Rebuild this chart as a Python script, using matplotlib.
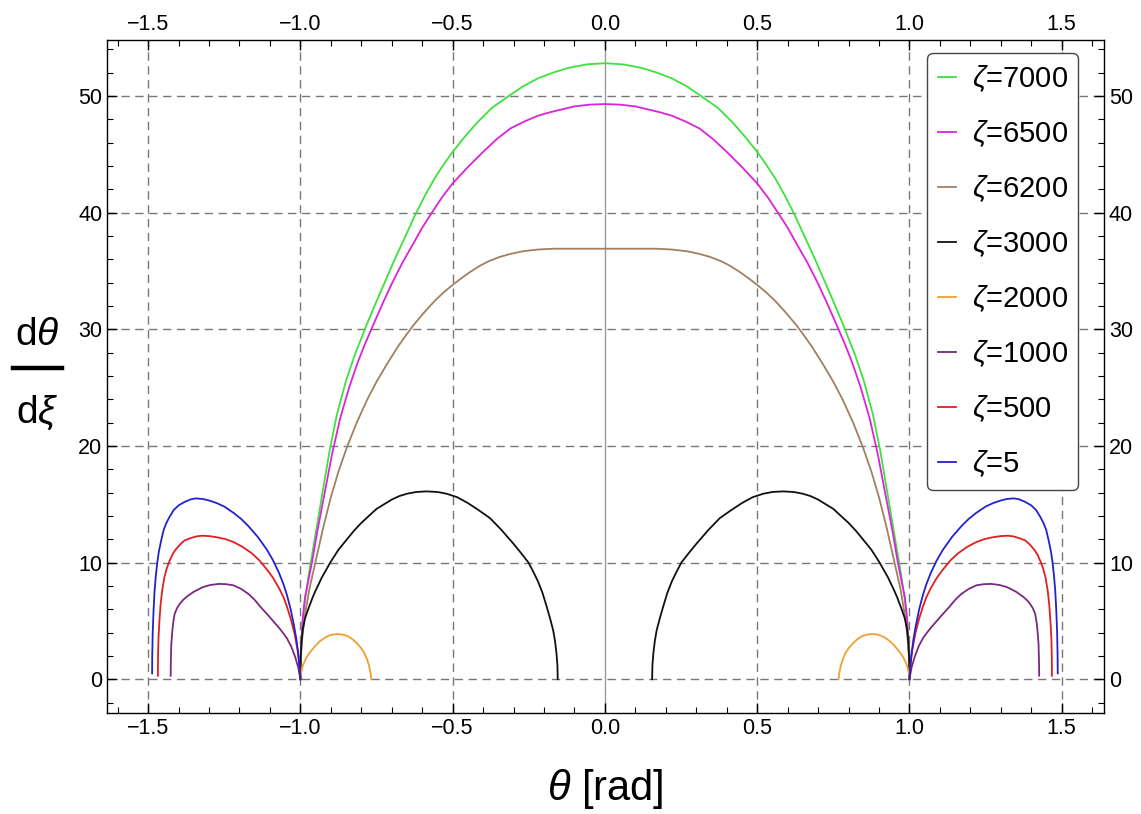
import numpy as np
import matplotlib
matplotlib.use("Agg")
import matplotlib.pyplot as plt
from matplotlib.lines import Line2D
from matplotlib.ticker import MultipleLocator

plt.rcParams['font.family'] = ['Liberation Sans', 'DejaVu Sans']
plt.rcParams['mathtext.fontset'] = 'custom'
plt.rcParams['mathtext.rm'] = 'Liberation Sans'
plt.rcParams['mathtext.it'] = 'Liberation Sans:italic'

# left half of each curve (theta <= 0); the plot is mirror-symmetric in theta
zeta_labels = ["7000", "6500", "6200", "3000", "2000", "1000", "500", "5"]
colors = ["#3de23d", "#dd22dd", "#a08060", "#111111", "#f0a030", "#7a2a7e", "#e02020", "#2222cc"]

th_7000 = [-1.0, -0.998, -0.993, -0.985, -0.97, -0.955, -0.93, -0.904, -0.88, -0.85,
           -0.82, -0.779, -0.75, -0.72, -0.69, -0.66, -0.623, -0.59, -0.56, -0.53,
           -0.5, -0.46, -0.42, -0.37, -0.315, -0.27, -0.22, -0.17, -0.12, -0.06, 0.0]
y_7000 = [0, 2.5, 4.8, 6.8, 9.4, 11.7, 15.6, 19.6, 22.7, 25.6,
          27.9, 30.6, 32.4, 34.2, 36.0, 37.7, 39.8, 41.5, 42.9, 44.1,
          45.2, 46.5, 47.7, 49.0, 50.0, 50.8, 51.5, 52.0, 52.4, 52.7, 52.8]

th_6500 = [-1.0, -0.998, -0.993, -0.985, -0.962, -0.945, -0.92, -0.896, -0.87, -0.84,
           -0.814, -0.79, -0.762, -0.73, -0.7, -0.665, -0.63, -0.6, -0.568, -0.535,
           -0.5, -0.45, -0.4, -0.355, -0.311, -0.265, -0.22, -0.18, -0.148, -0.1, -0.05, 0.0]
y_6500 = [0, 2.5, 5, 7, 10, 12.6, 16.0, 19.3, 22.3, 25.0,
          27.0, 28.6, 30.3, 32.2, 33.9, 35.7, 37.3, 38.7, 40, 41.3,
          42.5, 43.9, 45.2, 46.3, 47.2, 47.8, 48.3, 48.6, 48.8, 49.1, 49.25, 49.3]

th_6200 = [-1.0, -0.998, -0.993, -0.985, -0.97, -0.951, -0.925, -0.9, -0.875, -0.847,
           -0.815, -0.78, -0.75, -0.716, -0.68, -0.65, -0.63, -0.595, -0.56, -0.53,
           -0.5, -0.47, -0.443, -0.41, -0.38, -0.345, -0.311, -0.27, -0.22, -0.17, -0.12, 0.0]
y_6200 = [0, 2, 3.8, 5.5, 7.8, 10, 13.0, 15.6, 17.8, 19.9,
          22.0, 24.0, 25.5, 27.0, 28.5, 29.6, 30.3, 31.4, 32.4, 33.15,
          33.8, 34.4, 34.9, 35.45, 35.85, 36.2, 36.45, 36.68, 36.83, 36.9, 36.9, 36.9]

th_3000 = [-1.0, -0.999, -0.997, -0.992, -0.985, -0.973, -0.96, -0.95, -0.93, -0.902,
           -0.875, -0.85, -0.825, -0.8, -0.775, -0.75, -0.725, -0.7, -0.675, -0.65,
           -0.62, -0.585, -0.55, -0.52, -0.485, -0.45, -0.415, -0.377, -0.34, -0.3,
           -0.275, -0.251, -0.235, -0.22, -0.205, -0.191, -0.18, -0.17, -0.164, -0.159,
           -0.156, -0.155]
y_3000 = [0, 1.8, 3.0, 4.3, 5.2, 6.1, 7.0, 7.6, 8.7, 10,
          11.1, 11.9, 12.7, 13.4, 14.0, 14.6, 15.0, 15.4, 15.7, 15.9,
          16.05, 16.1, 16.05, 15.9, 15.6, 15.1, 14.5, 13.8, 12.8, 11.6,
          10.8, 10, 9.2, 8.4, 7.4, 6.2, 5.2, 4.2, 3.3, 2.2,
          1.2, 0]

th_2000 = [-1.0, -0.998, -0.993, -0.985, -0.977, -0.967, -0.95, -0.934, -0.92, -0.905,
           -0.89, -0.877, -0.86, -0.845, -0.83, -0.814, -0.8, -0.79, -0.781, -0.775,
           -0.77, -0.767]
y_2000 = [0, 0.5, 1.1, 1.6, 2.0, 2.35, 2.9, 3.3, 3.55, 3.75,
          3.85, 3.87, 3.82, 3.7, 3.45, 3.07, 2.65, 2.25, 1.7, 1.2,
          0.6, 0]

th_1000 = [-1.426, -1.4255, -1.424, -1.421, -1.418, -1.413, -1.405, -1.395, -1.385, -1.372,
           -1.35, -1.32, -1.295, -1.268, -1.245, -1.22, -1.195, -1.17, -1.15, -1.131,
           -1.11, -1.09, -1.07, -1.055, -1.044, -1.03, -1.017, -1.007, -1.0]
y_1000 = [0.3, 1.5, 3, 4.0, 4.8, 5.6, 6.1, 6.5, 6.8, 7.1,
          7.5, 7.9, 8.08, 8.17, 8.15, 8.05, 7.75, 7.3, 6.8, 6.2,
          5.6, 5.0, 4.4, 3.9, 3.5, 2.8, 1.9, 1.0, 0]

th_500 = [-1.468, -1.4675, -1.466, -1.463, -1.459, -1.454, -1.447, -1.44, -1.432, -1.42,
          -1.41, -1.395, -1.38, -1.36, -1.34, -1.323, -1.3, -1.27, -1.245, -1.219,
          -1.19, -1.16, -1.135, -1.11, -1.09, -1.07, -1.055, -1.044, -1.032, -1.02,
          -1.01, -1.004, -1.0]
y_500 = [0.3, 2, 3.5, 5, 6.4, 7.6, 8.7, 9.4, 10, 10.7,
         11.1, 11.55, 11.9, 12.1, 12.25, 12.3, 12.27, 12.15, 12.0, 11.75,
         11.35, 10.8, 10.2, 9.4, 8.7, 7.8, 7.0, 6.2, 5.2, 4.0,
         2.6, 1.4, 0]

th_5 = [-1.487, -1.4865, -1.485, -1.482, -1.479, -1.475, -1.47, -1.465, -1.458, -1.449,
        -1.44, -1.43, -1.416, -1.4, -1.38, -1.36, -1.344, -1.32, -1.3, -1.275,
        -1.25, -1.219, -1.195, -1.17, -1.14, -1.11, -1.09, -1.07, -1.055, -1.044,
        -1.032, -1.021, -1.013, -1.006, -1.0]
y_5 = [0.5, 2, 4, 6, 7.5, 8.8, 10, 10.9, 11.8, 12.8,
       13.4, 13.9, 14.5, 14.9, 15.2, 15.42, 15.5, 15.45, 15.32, 15.1,
       14.8, 14.25, 13.75, 13.1, 12.2, 11.1, 10.2, 9.1, 8.1, 7.2,
       6.0, 4.6, 3.4, 2.0, 0]

curves = [(th_7000, y_7000), (th_6500, y_6500), (th_6200, y_6200), (th_3000, y_3000),
          (th_2000, y_2000), (th_1000, y_1000), (th_500, y_500), (th_5, y_5)]
# curves that span across theta = 0 join into one arch
joined = [True, True, True, False, False, False, False, False]

fig = plt.figure(figsize=(11.41, 8.14), dpi=100)
ax = fig.add_axes([0.0938, 0.124, 0.8738, 0.827])

ax.axvline(0, color="#999999", lw=1.0, zorder=1)
for xv in [-1.5, -1.0, -0.5, 0.5, 1.0, 1.5]:
    ax.axvline(xv, color="#777777", lw=1.0, ls=(0, (6, 4)), zorder=1)
for yv in range(0, 60, 10):
    ax.axhline(yv, color="#777777", lw=1.0, ls=(0, (6, 4)), zorder=1)

for (th, y), lab, c, j in zip(curves, zeta_labels, colors, joined):
    th = np.array(th)
    y = np.array(y)
    if j:
        xs = np.concatenate([th, -th[::-1][1:]])
        ys = np.concatenate([y, y[::-1][1:]])
        ax.plot(xs, ys, color=c, lw=1.3, label=r"$\zeta$=" + lab, zorder=3)
    else:
        ax.plot(th, y, color=c, lw=1.3, label=r"$\zeta$=" + lab, zorder=3)
        ax.plot(-th[::-1], y[::-1], color=c, lw=1.3, zorder=3)

ax.set_xlim(-1.635, 1.639)
ax.set_ylim(-2.9, 54.8)

ax.xaxis.set_major_locator(MultipleLocator(0.5))
ax.xaxis.set_minor_locator(MultipleLocator(0.1))
ax.yaxis.set_major_locator(MultipleLocator(10))
ax.yaxis.set_minor_locator(MultipleLocator(2))
ax.xaxis.set_major_formatter(plt.FuncFormatter(lambda v, p: f"{v:.1f}".replace("-", "\u2212")))
ax.tick_params(which="both", direction="in", top=True, right=True,
               labeltop=True, labelright=True, labelsize=15.5, colors="black")
ax.tick_params(which="major", length=7, width=1)
ax.tick_params(which="minor", length=4, width=0.8)
for s in ax.spines.values():
    s.set_linewidth(1.0)

ax.set_xlabel(r"$\theta$ [rad]", fontsize=30, labelpad=20)

# y label drawn as a stacked fraction
fig.text(37 / 1141, 1 - 335 / 814, r"d$\theta$", fontsize=28, ha="center", va="center")
fig.text(37 / 1141, 1 - 413 / 814, r"d$\xi$", fontsize=28, ha="center", va="center")
fig.add_artist(Line2D([13 / 1141, 62 / 1141], [1 - 368 / 814, 1 - 368 / 814],
                      color="black", lw=3.2, transform=fig.transFigure))

leg = ax.legend(loc="upper right", bbox_to_anchor=(0.974, 0.981), borderaxespad=0,
                fontsize=21, handlelength=0.62, handletextpad=0.55, labelspacing=0.83,
                borderpad=0.35, fancybox=True, framealpha=1, edgecolor="#444444")
leg.get_frame().set_linewidth(1.0)

fig.savefig("out.png", dpi=100)
